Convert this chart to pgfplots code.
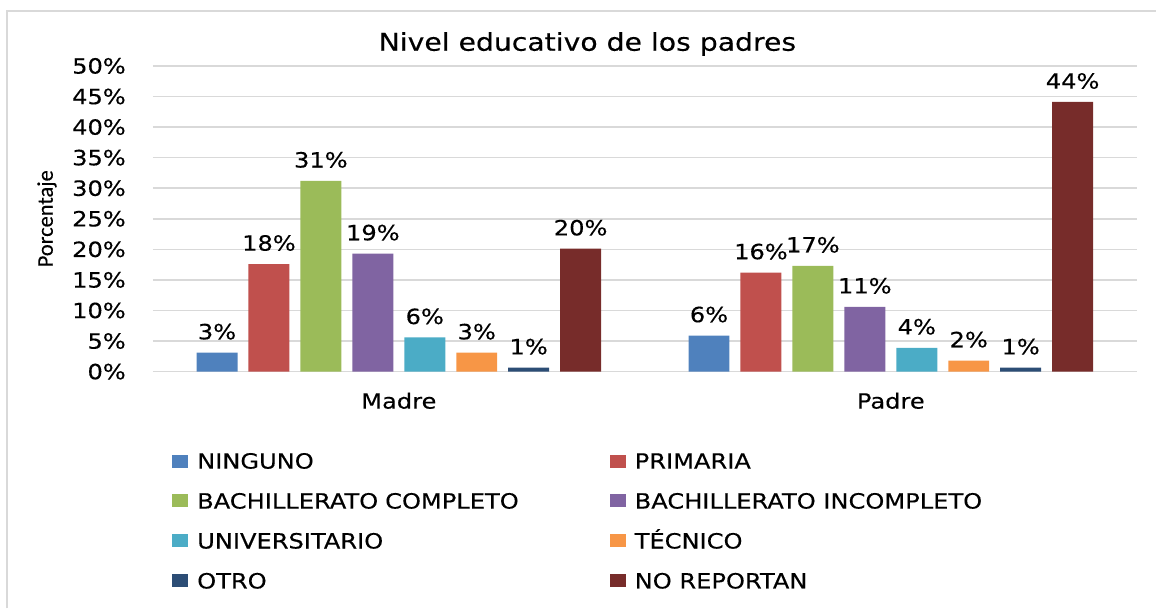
\documentclass[border=0pt]{standalone}
\usepackage{fontspec}
\setmainfont{DejaVu Sans}[FakeStretch=1.15, FakeBold=0.3]
\newfontfamily\carlito{Carlito}[FakeBold=0.3]
\usepackage{pgfplots}
\pgfplotsset{compat=1.18}

\definecolor{cNing}{HTML}{4F81BD}
\definecolor{cPrim}{HTML}{C0504D}
\definecolor{cBacC}{HTML}{9BBB59}
\definecolor{cBacI}{HTML}{8064A2}
\definecolor{cUniv}{HTML}{4BACC6}
\definecolor{cTecn}{HTML}{F79646}
\definecolor{cOtro}{HTML}{2C4D75}
\definecolor{cNoRe}{HTML}{772C2A}
\definecolor{gridgray}{HTML}{D9D9D9}
\definecolor{framegray}{HTML}{D9D9D9}

\pgfplotsset{sq legend/.style={legend image code/.code={\fill[##1] (0pt,-3.25pt) rectangle (8pt,3.25pt);}}}

\begin{document}
\begin{tikzpicture}[x=1pt,y=1pt]
\path (0,0) rectangle (578.5,304.5);
\draw[line width=1.2pt, color=framegray] (3.5,0) -- (3.5,299) -- (578.5,299);
\begin{axis}[
    at={(76.5pt,118.5pt)}, anchor=south west,
    scale only axis,
    width=492.5pt, height=153pt,
    ybar=5.5pt, bar width=20.5pt,
    xmin=-0.5, xmax=1.5,
    ymin=0, ymax=50,
    xtick={0,1}, xticklabels={Madre,Padre},
    ytick={0,5,...,50},
    yticklabel={\pgfmathprintnumber{\tick}\%},
    /pgf/number format/assume math mode=true,
    ymajorgrids, grid style={gridgray, line width=0.8pt},
    axis line style={draw=none},
    major tick length=0pt,
    tick label style={font=\fontsize{10.5}{12}\selectfont, text=black},
    yticklabel style={xshift=-10pt},
    xticklabel style={yshift=-7pt},
    nodes near coords={\pgfmathprintnumber[fixed,precision=0]{\pgfplotspointmeta}\%},
    nodes near coords style={font=\fontsize{10.5}{12}\selectfont, text=black, yshift=3pt,
        /pgf/number format/assume math mode=true},
    legend columns=2,
    legend cell align=left,
    legend style={at={(rel axis cs:0.0193,-0.2663)}, anchor=north west,
        draw=none, inner sep=0pt, column sep=4.5pt, row sep=12.4pt,
        nodes={inner sep=0pt, text height=7.6pt, text depth=0pt,
               font=\fontsize{10.5}{12}\selectfont},
        /tikz/column 2/.style={text width=202pt}},
]
\addplot[fill=cNing, draw=none, sq legend] coordinates {(0,3.1) (1,5.9)};
\addplot[fill=cPrim, draw=none, sq legend] coordinates {(0,17.6) (1,16.2)};
\addplot[fill=cBacC, draw=none, sq legend] coordinates {(0,31.2) (1,17.3)};
\addplot[fill=cBacI, draw=none, sq legend] coordinates {(0,19.3) (1,10.6)};
\addplot[fill=cUniv, draw=none, sq legend] coordinates {(0,5.6) (1,3.9)};
\addplot[fill=cTecn, draw=none, sq legend] coordinates {(0,3.1) (1,1.8)};
\addplot[fill=cOtro, draw=none, sq legend] coordinates {(0,0.65) (1,0.65)};
\addplot[fill=cNoRe, draw=none, sq legend] coordinates {(0,20.1) (1,44.1)};
\legend{NINGUNO, PRIMARIA, BACHILLERATO COMPLETO, BACHILLERATO INCOMPLETO,
        UNIVERSITARIO, TÉCNICO, OTRO, NO REPORTAN}
\end{axis}
\node[font=\fontsize{12.3}{14}\selectfont] at (294,282.5) {Nivel educativo de los padres};
\node[rotate=90, font=\carlito\fontsize{11.2}{13}\selectfont] at (23.5,195) {Porcentaje};
\end{tikzpicture}
\end{document}
